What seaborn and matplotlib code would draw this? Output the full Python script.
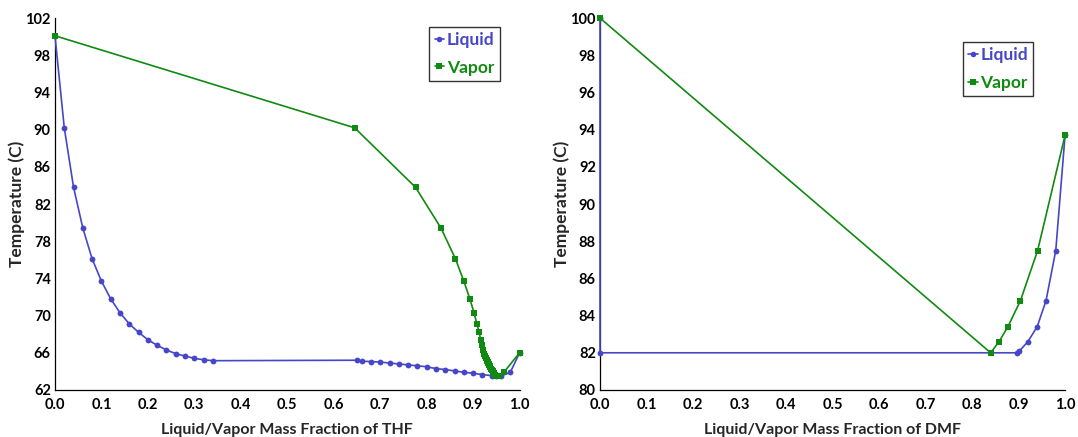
import numpy as np
import pandas as pd
import matplotlib
matplotlib.use("Agg")
import matplotlib.pyplot as plt
import seaborn as sns
from matplotlib.lines import Line2D

# ---- THF data ----
thf_liq_x = [0.0, 0.02, 0.04, 0.06, 0.08, 0.10, 0.12, 0.14, 0.16, 0.18, 0.20, 0.22, 0.24, 0.26, 0.28, 0.30, 0.32, 0.34,
             0.65, 0.66, 0.68, 0.70, 0.72, 0.74, 0.76, 0.78, 0.80, 0.82, 0.84, 0.86, 0.88, 0.90, 0.92, 0.94, 0.95, 0.96, 0.98, 1.0]
thf_liq_t = [100.1, 90.2, 83.8, 79.4, 76.1, 73.7, 71.8, 70.3, 69.1, 68.2, 67.4, 66.8, 66.3, 65.9, 65.65, 65.4, 65.25, 65.15,
             65.2, 65.1, 65.05, 65.0, 64.9, 64.8, 64.7, 64.6, 64.5, 64.3, 64.2, 64.05, 63.9, 63.8, 63.65, 63.55, 63.5, 63.5, 63.9, 66.0]
thf_vap_x = [0.0, 0.645, 0.776, 0.831, 0.862, 0.880, 0.893, 0.902, 0.908, 0.913, 0.916, 0.919, 0.921, 0.923, 0.925, 0.927,
             0.929, 0.930, 0.931, 0.932, 0.933, 0.934, 0.935, 0.936, 0.937, 0.939, 0.940, 0.942, 0.943, 0.945, 0.947,
             0.949, 0.951, 0.955, 0.966, 1.0]
thf_vap_t = [100.1, 90.2, 83.8, 79.4, 76.1, 73.7, 71.8, 70.3, 69.1, 68.2, 67.4, 66.8, 66.3, 65.9, 65.65, 65.4,
             65.2, 65.1, 65.05, 65.0, 64.9, 64.8, 64.7, 64.6, 64.5, 64.3, 64.2, 64.05, 63.9, 63.8, 63.65,
             63.55, 63.5, 63.5, 63.9, 66.0]

# ---- DMF data ----
dmf_liq_x = [0.0, 0.0, 0.897, 0.902, 0.920, 0.940, 0.959, 0.980, 1.0]
dmf_liq_t = [100.0, 82.0, 82.0, 82.1, 82.6, 83.4, 84.8, 87.5, 93.7]
dmf_vap_x = [0.0, 0.840, 0.858, 0.877, 0.904, 0.941, 1.0]
dmf_vap_t = [100.0, 82.0, 82.6, 83.4, 84.8, 87.5, 93.7]

x_ticks = [0.0, 0.1, 0.2, 0.3, 0.4, 0.5, 0.6, 0.7, 0.8, 0.9, 1.0]
thf_yticks = [62, 66, 70, 74, 78, 82, 86, 90, 94, 98, 102]
dmf_yticks = [80, 82, 84, 86, 88, 90, 92, 94, 96, 98, 100]
series = ["Liquid", "Vapor"]

BLUE = "#4646C8"
GREEN = "#108A10"

sns.set_style("white")
plt.rcParams["font.family"] = ["Lato", "DejaVu Sans"]
plt.rcParams["font.weight"] = "bold"

fig = plt.figure(figsize=(10.78, 4.37), dpi=100)
ax1 = fig.add_axes([0.051, 0.1076, 0.431, 0.851])
ax2 = fig.add_axes([0.5566, 0.1076, 0.4314, 0.851])

def make_df(lx, lt, vx, vt):
    return pd.DataFrame({
        "x": list(lx) + list(vx),
        "t": list(lt) + list(vt),
        "phase": ["Liquid"] * len(lx) + ["Vapor"] * len(vx),
    })

def draw(ax, df, xlabel, yticks, ylim):
    sns.lineplot(data=df, x="x", y="t", hue="phase", style="phase", units="phase",
                 estimator=None, sort=False, ax=ax,
                 palette={"Liquid": BLUE, "Vapor": GREEN},
                 markers={"Liquid": "o", "Vapor": "s"}, dashes=False,
                 linewidth=1.2, markersize=4.2, markeredgewidth=0, legend=False,
                 zorder=3, clip_on=False)
    ax.set_xlim(0, 1.0)
    ax.set_ylim(*ylim)
    ax.set_xticks(x_ticks)
    ax.set_xticklabels([f"{v:.1f}" for v in x_ticks])
    ax.set_yticks(yticks)
    ax.set_yticklabels([str(v) for v in yticks])
    ax.tick_params(direction="in", length=3, width=0.8, labelsize=10.5, colors="black")
    ax.tick_params(axis="x", pad=6)
    ax.tick_params(axis="y", pad=3)
    for lab in ax.get_xticklabels() + ax.get_yticklabels():
        lab.set_fontweight("bold")
    ax.set_xlabel(xlabel, fontsize=11.5, fontweight="bold", labelpad=8)
    ax.set_ylabel("Temperature (C)", fontsize=12.5, fontweight="bold", labelpad=0)
    for s in ["top", "right"]:
        ax.spines[s].set_visible(False)
    for s in ["left", "bottom"]:
        ax.spines[s].set_color("black")
        ax.spines[s].set_linewidth(0.9)
    handles = [Line2D([0], [0], color=BLUE, marker="o", markersize=4, lw=1.2, markeredgewidth=0),
               Line2D([0], [0], color=GREEN, marker="s", markersize=4.2, lw=1.2, markeredgewidth=0)]
    return handles

def add_legend(ax, handles, anchor):
    leg = ax.legend(handles, series, loc="upper right", bbox_to_anchor=anchor, frameon=True, fancybox=False,
                    edgecolor="black", handlelength=0.55, handletextpad=0.15, borderpad=0.3,
                    borderaxespad=0.0, labelspacing=0.65, prop={"weight": "bold", "size": 12.5})
    leg.get_frame().set_linewidth(1.0)
    for t, c in zip(leg.get_texts(), [BLUE, GREEN]):
        t.set_color(c)
    return leg

h = draw(ax1, make_df(thf_liq_x, thf_liq_t, thf_vap_x, thf_vap_t),
         "Liquid/Vapor Mass Fraction of THF", thf_yticks, (62, 102))
add_legend(ax1, h, (0.957, 0.976))

h = draw(ax2, make_df(dmf_liq_x, dmf_liq_t, dmf_vap_x, dmf_vap_t),
         "Liquid/Vapor Mass Fraction of DMF", dmf_yticks, (80, 100))
add_legend(ax2, h, (0.931, 0.935))

fig.savefig("out.png", dpi=100)
